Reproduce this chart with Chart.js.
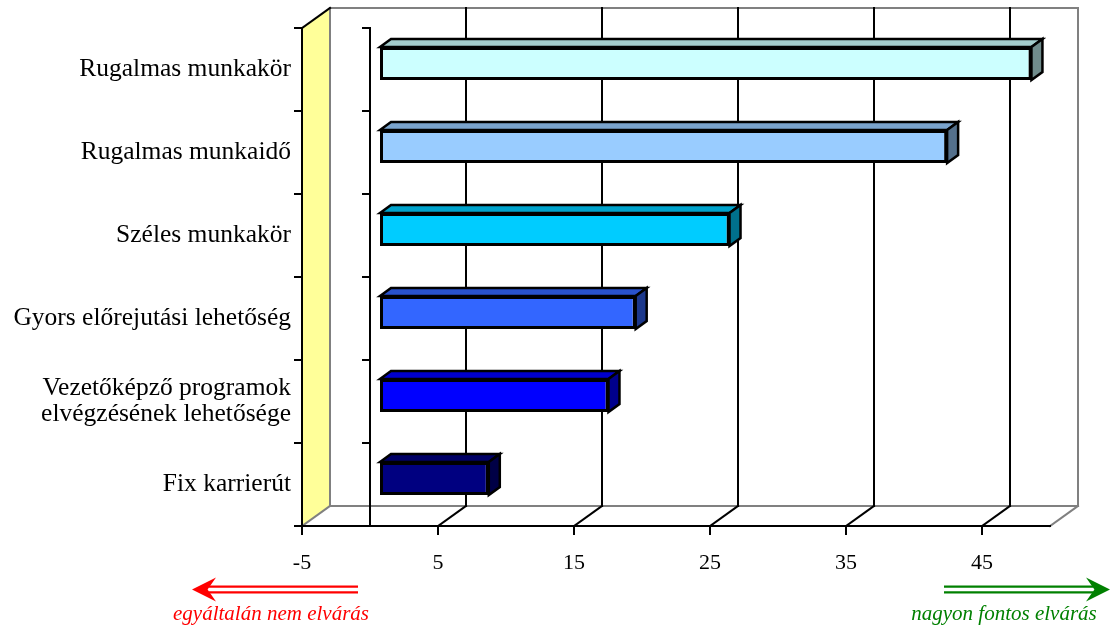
<!DOCTYPE html>
<html>
<head>
<meta charset="utf-8">
<script src="https://cdn.jsdelivr.net/npm/chart.js@4"></script>
<style>
  html, body { margin: 0; padding: 0; background: #fff; }
  #wrap { position: relative; width: 1111px; height: 628px; }
</style>
</head>
<body>
<div id="wrap"><canvas id="chart" width="1111" height="628"></canvas></div>
<script>
// === Data ===
const categories = [
  'Rugalmas munkakör',
  'Rugalmas munkaidő',
  'Széles munkakör',
  'Gyors előrejutási lehetőség',
  ['Vezetőképző programok', 'elvégzésének lehetősége'],
  'Fix karrierút'
];
const values = [47.9, 41.7, 25.7, 18.8, 16.8, 8.0];
const barColors = ['#CCFFFF', '#99CCFF', '#00CCFF', '#3366FF', '#0000FF', '#000080'];
const xTicks = [-5, 5, 15, 25, 35, 45];
const xMin = -5;
const xMax = 50;

// === 3D look ===
const WALL_DX = 28, WALL_DY = -20;   // back wall offset
const BAR_DX = 10, BAR_DY = -6;      // bar front face depth
const DEPTH_DX = 11, DEPTH_DY = -8;  // bar thickness
const GREY = '#808080';

function shade(hex, f) {
  const n = parseInt(hex.slice(1), 16);
  const r = Math.round(((n >> 16) & 255) * f);
  const g = Math.round(((n >> 8) & 255) * f);
  const b = Math.round((n & 255) * f);
  return 'rgb(' + r + ',' + g + ',' + b + ')';
}

function line(ctx, x1, y1, x2, y2, color, w) {
  ctx.beginPath();
  ctx.strokeStyle = color;
  ctx.lineWidth = w || 2;
  ctx.moveTo(x1, y1);
  ctx.lineTo(x2, y2);
  ctx.stroke();
}

const box3d = {
  id: 'box3d',
  beforeDatasetsDraw(chart) {
    const ctx = chart.ctx;
    const x = chart.scales.x;
    const L = x.getPixelForValue(xMin), R = x.getPixelForValue(xMax);
    const T = chart.chartArea.top, B = chart.chartArea.bottom;
    ctx.save();
    ctx.lineCap = 'square';

    // left wall
    ctx.beginPath();
    ctx.moveTo(L, T);
    ctx.lineTo(L + WALL_DX, T + WALL_DY);
    ctx.lineTo(L + WALL_DX, B + WALL_DY);
    ctx.lineTo(L, B);
    ctx.closePath();
    ctx.fillStyle = '#FFFF99';
    ctx.fill();

    // back wall frame
    ctx.beginPath();
    ctx.strokeStyle = GREY;
    ctx.lineWidth = 2;
    ctx.moveTo(L + WALL_DX, B + WALL_DY);
    ctx.lineTo(L + WALL_DX, T + WALL_DY);
    ctx.lineTo(R + WALL_DX, T + WALL_DY);
    ctx.lineTo(R + WALL_DX, B + WALL_DY);
    ctx.lineTo(L + WALL_DX, B + WALL_DY);
    ctx.stroke();
    line(ctx, L, B, L + WALL_DX, B + WALL_DY, GREY);
    line(ctx, R, B, R + WALL_DX, B + WALL_DY, GREY);

    // gridlines on back wall + floor
    xTicks.forEach(v => {
      const px = x.getPixelForValue(v);
      if (v !== xMin) {
        line(ctx, px + WALL_DX, T + WALL_DY, px + WALL_DX, B + WALL_DY, '#000');
        line(ctx, px, B, px + WALL_DX, B + WALL_DY, '#000');
      }
      line(ctx, px, B, px, B + 8, '#000');
    });

    // front edges
    line(ctx, L, B, R, B, '#000');
    line(ctx, L, T, L, B, '#000');
    line(ctx, L, T, L + WALL_DX, T + WALL_DY, '#000');

    // zero line with category ticks
    const z = x.getPixelForValue(0);
    line(ctx, z, T, z, B, '#000');
    const step = (B - T) / categories.length;
    for (let i = 0; i <= categories.length; i++) {
      const ty = T + i * step;
      line(ctx, z - 7, ty, z, ty, '#000');
      line(ctx, L - 7, ty, L, ty, '#000');
    }
    ctx.restore();

    // shift bars into depth
    ctx.save();
    ctx.translate(BAR_DX, BAR_DY);
  },
  afterDatasetsDraw(chart) {
    const ctx = chart.ctx;
    const meta = chart.getDatasetMeta(0);
    ctx.lineJoin = 'miter';
    meta.data.forEach((bar, i) => {
      const x0 = Math.min(bar.base, bar.x), x1 = Math.max(bar.base, bar.x);
      const yt = bar.y - bar.height / 2, yb = bar.y + bar.height / 2;
      ctx.lineWidth = 2.5;
      ctx.strokeStyle = '#000';
      // top face
      ctx.beginPath();
      ctx.moveTo(x0, yt);
      ctx.lineTo(x0 + DEPTH_DX, yt + DEPTH_DY);
      ctx.lineTo(x1 + DEPTH_DX, yt + DEPTH_DY);
      ctx.lineTo(x1, yt);
      ctx.closePath();
      ctx.fillStyle = shade(barColors[i], 0.8);
      ctx.fill();
      ctx.stroke();
      // side face
      ctx.beginPath();
      ctx.moveTo(x1, yt);
      ctx.lineTo(x1 + DEPTH_DX, yt + DEPTH_DY);
      ctx.lineTo(x1 + DEPTH_DX, yb + DEPTH_DY);
      ctx.lineTo(x1, yb);
      ctx.closePath();
      ctx.fillStyle = shade(barColors[i], 0.55);
      ctx.fill();
      ctx.stroke();
    });
    ctx.restore();
  }
};

// === Direction arrows ===
function drawArrow(ctx, xTail, xTip, y, color) {
  const dir = xTip > xTail ? 1 : -1;
  const headLen = 24;
  ctx.save();
  ctx.fillStyle = color;
  line(ctx, xTail, y - 2.8, xTip - dir * headLen * 0.7, y - 2.8, color, 2.2);
  line(ctx, xTail, y + 2.8, xTip - dir * headLen * 0.7, y + 2.8, color, 2.2);
  ctx.beginPath();
  ctx.moveTo(xTip, y);
  ctx.lineTo(xTip - dir * headLen, y - 12);
  ctx.lineTo(xTip - dir * headLen * 0.65, y);
  ctx.lineTo(xTip - dir * headLen, y + 12);
  ctx.closePath();
  ctx.fill();
  ctx.restore();
}

const notes = {
  id: 'notes',
  afterDraw(chart) {
    const ctx = chart.ctx;
    drawArrow(ctx, 358, 192, 589.5, '#FF0000');
    drawArrow(ctx, 944, 1110, 589.5, '#008000');
    ctx.save();
    ctx.font = 'italic 21px "Liberation Serif", serif';
    ctx.textAlign = 'center';
    ctx.textBaseline = 'alphabetic';
    ctx.fillStyle = '#FF0000';
    ctx.fillText('egyáltalán nem elvárás', 271, 620);
    ctx.fillStyle = '#008000';
    ctx.fillText('nagyon fontos elvárás', 1004, 620);
    ctx.restore();
  }
};

new Chart(document.getElementById('chart'), {
  type: 'bar',
  data: {
    labels: categories,
    datasets: [{
      data: values,
      backgroundColor: barColors,
      borderColor: '#000',
      borderWidth: 3,
      borderSkipped: false,
      categoryPercentage: 0.4,
      barPercentage: 1,
      clip: false
    }]
  },
  options: {
    indexAxis: 'y',
    responsive: false,
    animation: false,
    layout: { padding: { top: 28, right: 61, left: 0, bottom: 0 } },
    plugins: {
      legend: { display: false },
      tooltip: { enabled: false }
    },
    scales: {
      x: {
        min: xMin,
        max: xMax,
        afterBuildTicks: scale => { scale.ticks = xTicks.map(v => ({ value: v })); },
        afterFit: scale => { scale.height = 102; },
        grid: { display: false },
        border: { display: false },
        ticks: {
          padding: 16,
          maxRotation: 0,
          autoSkip: false,
          color: '#000',
          font: { family: '"Liberation Serif", serif', size: 22 }
        }
      },
      y: {
        afterFit: scale => { scale.width = 302; },
        grid: { display: false },
        border: { display: false },
        ticks: {
          padding: 3,
          autoSkip: false,
          color: '#000',
          font: { family: '"Liberation Serif", serif', size: 25.5, lineHeight: '26px' }
        }
      }
    }
  },
  plugins: [box3d, notes]
});
</script>
</body>
</html>
